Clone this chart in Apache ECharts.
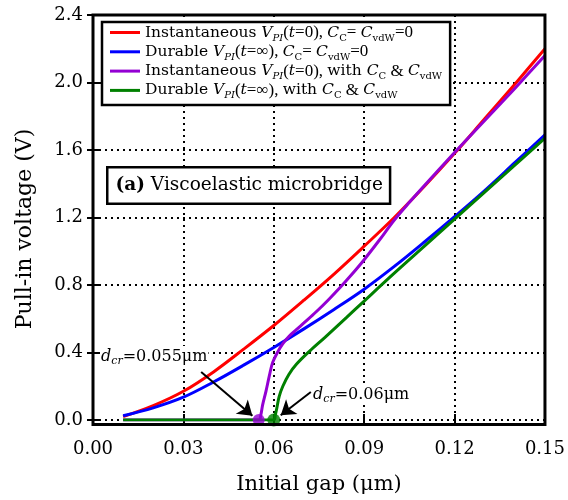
<!DOCTYPE html>
<html><head><meta charset="utf-8">
<script src="https://cdn.jsdelivr.net/npm/echarts@6/dist/echarts.min.js"></script>
<style>html,body{margin:0;padding:0;background:#fff}#c{width:568px;height:500px}</style>
</head><body><div id="c"></div>
<script>
// ---- data ----
const gapGrid      = [0.01,0.02,0.03,0.04,0.05,0.06,0.07,0.08,0.09,0.10,0.11,0.12,0.13,0.14,0.15];
const instNoForce  = [0.02,0.085,0.17,0.285,0.42,0.56,0.71,0.865,1.03,1.20,1.385,1.58,1.785,1.99,2.20];
const durNoForce   = [0.025,0.072,0.135,0.225,0.325,0.43,0.54,0.655,0.775,0.91,1.055,1.205,1.36,1.525,1.69];
const instWithGap  = [0.01,0.055,0.0557,0.0563,0.0574,0.0585,0.0596,0.0612,0.0629,0.0650,0.0675,0.070,0.074,0.078,0.082,0.086,0.090,0.095,0.100,0.105,0.110,0.120,0.130,0.140,0.150];
const instWithV    = [0,0,0.03,0.09,0.17,0.26,0.34,0.40,0.45,0.495,0.535,0.575,0.64,0.71,0.785,0.865,0.95,1.065,1.185,1.29,1.39,1.585,1.775,1.965,2.16];
const durWithGap   = [0.01,0.06,0.0605,0.061,0.0618,0.063,0.065,0.0675,0.072,0.077,0.084,0.090,0.100,0.110,0.120,0.130,0.140,0.150];
const durWithV     = [0,0,0.03,0.07,0.14,0.20,0.27,0.33,0.41,0.49,0.605,0.705,0.87,1.03,1.19,1.35,1.51,1.67];
const dcrInst = [0.055, 0];
const dcrDur  = [0.060, 0];
const arrowInst = [[0.0359, 0.284], [0.0529, 0.025]];
const arrowDur  = [[0.0723, 0.166], [0.0623, 0.028]];
const xTickInterval = 0.03, xMin = 0, xMax = 0.15;
const yTickInterval = 0.4,  yMin = 0, yMax = 2.4;
const seriesNames = ['inst0','dur0','instF','durF'];
const legendLabels = {
  inst0: '{n|Instantaneous }{i|V}{si|PI}{p|(}{i|t}{p|=0), }{i|C}{s|C}{p|= }{i|C}{s|vdW}{p|=0}',
  dur0:  '{n|Durable }{i|V}{si|PI}{p|(}{i|t}{p|=∞), }{i|C}{s|C}{p|= }{i|C}{s|vdW}{p|=0}',
  instF: '{n|Instantaneous }{i|V}{si|PI}{p|(}{i|t}{p|=0), }{n|with }{i|C}{s|C}{p| & }{i|C}{s|vdW}',
  durF:  '{n|Durable }{i|V}{si|PI}{p|(}{i|t}{p|=∞), }{n|with }{i|C}{s|C}{p| & }{i|C}{s|vdW}'
};
const xTitle = 'Initial gap (μm)';
const yTitle = 'Pull-in voltage (V)';
const panelTitle = '{b|(a)}{n| Viscoelastic microbridge}';
const noteInst = '{i|d}{si|cr}{n|=0.055μm}';
const noteDur  = '{i|d}{si|cr}{n|=0.06μm}';

const F = 'DejaVu Serif';
const F2 = 'Liberation Serif';
const zip = (a, b) => a.map((v, i) => [v, b[i]]);
function richSet(fs, sub, lh) {
  return {
    n:  {fontFamily: F, fontSize: fs, color: '#000', lineHeight: lh},
    p:  {fontFamily: F2, fontSize: fs + 1.5, color: '#000', lineHeight: lh},
    i:  {fontFamily: F, fontSize: fs, fontStyle: 'italic', color: '#000', lineHeight: lh},
    b:  {fontFamily: F, fontSize: fs, fontWeight: 'bold', color: '#000', lineHeight: lh},
    s:  {fontFamily: F, fontSize: sub, color: '#000', lineHeight: 10, verticalAlign: 'bottom'},
    si: {fontFamily: F, fontSize: sub, fontStyle: 'italic', color: '#000', lineHeight: 10, verticalAlign: 'bottom'}
  };
}
const dotted = {color: '#000', width: 2, type: [2, 4]};
const tickStyle = {show: true, inside: true, length: 6, lineStyle: {color: '#000', width: 2}};

const chart = echarts.init(document.getElementById('c'), null, {renderer: 'canvas'});
const lineBase = {type: 'line', showSymbol: false, symbol: 'none', smooth: 0.35, lineStyle: {width: 3}};
chart.setOption({
  animation: false,
  backgroundColor: '#fff',
  grid: {left: 93, right: 21, top: 15, bottom: 78.5, containLabel: false},
  xAxis: [{
    type: 'value', min: xMin, max: xMax, interval: xTickInterval,
    axisLine: {show: false}, axisTick: tickStyle,
    axisLabel: {fontFamily: F, fontSize: 18, color: '#000', margin: 20, formatter: v => v.toFixed(2)},
    splitLine: {show: true, lineStyle: dotted},
    name: xTitle, nameLocation: 'middle', nameGap: 54,
    nameTextStyle: {fontFamily: F, fontSize: 21, color: '#000'}
  }, {
    type: 'value', position: 'top', min: xMin, max: xMax, interval: xTickInterval,
    axisLine: {show: false}, axisTick: tickStyle, axisLabel: {show: false}, splitLine: {show: false}
  }],
  yAxis: [{
    type: 'value', min: yMin, max: yMax, interval: yTickInterval,
    axisLine: {show: false}, axisTick: tickStyle,
    axisLabel: {fontFamily: F, fontSize: 18, color: '#000', margin: 10, formatter: v => v.toFixed(1)},
    splitLine: {show: true, lineStyle: dotted}
  }, {
    type: 'value', position: 'right', min: yMin, max: yMax, interval: yTickInterval,
    axisLine: {show: false}, axisTick: tickStyle, axisLabel: {show: false}, splitLine: {show: false}
  }],
  legend: {
    data: seriesNames, orient: 'vertical', left: 102, top: 22,
    icon: 'rect', itemWidth: 30, itemHeight: 3, itemGap: 0.3,
    padding: [2, 8, 4, 8],
    borderColor: '#000', borderWidth: 2.5, backgroundColor: '#fff',
    selectedMode: false,
    formatter: name => legendLabels[name],
    textStyle: {fontFamily: F, fontSize: 15.5, color: '#000', rich: richSet(15.5, 10, 21)}
  },
  series: [
    Object.assign({}, lineBase, {name: 'inst0', color: '#ff0000', data: zip(gapGrid, instNoForce)}),
    Object.assign({}, lineBase, {name: 'dur0', color: '#0000ff', data: zip(gapGrid, durNoForce)}),
    Object.assign({}, lineBase, {name: 'instF', color: '#9400d3', data: zip(instWithGap, instWithV)}),
    Object.assign({}, lineBase, {name: 'durF', color: '#008000', data: zip(durWithGap, durWithV)}),
    {type: 'scatter', symbolSize: 12, itemStyle: {color: '#9400d3'}, data: [dcrInst], z: 5},
    {type: 'scatter', symbolSize: 13, itemStyle: {color: '#008000'}, data: [dcrDur], z: 5},
    {type: 'lines', coordinateSystem: 'cartesian2d', z: 6,
     symbol: ['none', 'arrow'], symbolSize: [0, 14],
     lineStyle: {color: '#000', width: 2, opacity: 1},
     data: [{coords: arrowInst}, {coords: arrowDur}]}
  ]
});

const x0 = chart.convertToPixel({xAxisIndex: 0}, xMin);
const x1 = chart.convertToPixel({xAxisIndex: 0}, xMax);
const yTop = chart.convertToPixel({yAxisIndex: 0}, yMax);
const yBot = chart.convertToPixel({yAxisIndex: 0}, yMin) + 4.5;
chart.setOption({
  graphic: [
    {type: 'rect', z: 100, silent: true,
     shape: {x: x0, y: yTop, width: x1 - x0, height: yBot - yTop},
     style: {fill: 'none', stroke: '#000', lineWidth: 3}},
    {type: 'text', z: 50, left: 106, top: 166,
     style: {text: panelTitle, rich: richSet(18.5, 12, 24), backgroundColor: '#fff',
             borderColor: '#000', borderWidth: 2.5, padding: [5, 6, 5, 7]}},
    {type: 'text', z: 50, left: 100, top: 346,
     style: {text: noteInst, rich: richSet(16, 11, 21), backgroundColor: '#fff', padding: [0, 1, 0, 1]}},
    {type: 'text', z: 50, left: 312, top: 384,
     style: {text: noteDur, rich: richSet(16, 11, 21), backgroundColor: '#fff', padding: [0, 1, 0, 1]}},
    {type: 'text', z: 50, x: 25, y: 229, rotation: Math.PI / 2,
     style: {text: yTitle, fontFamily: F, fontSize: 22, fill: '#000', align: 'center', verticalAlign: 'middle'}}
  ]
});
</script></body></html>
